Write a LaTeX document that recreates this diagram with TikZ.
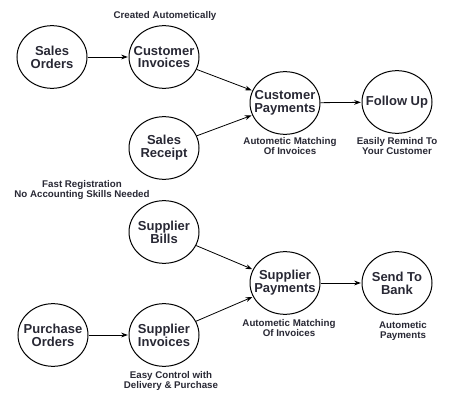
\documentclass[tikz,border=0pt]{standalone}
\usepackage{fontspec}
\setmainfont{Liberation Sans}
\usetikzlibrary{shapes.geometric,arrows.meta}

\definecolor{ink}{RGB}{40,40,52}

\tikzset{
  bubble/.style={ellipse, draw, line width=0.75pt, minimum width=52.5pt,
    minimum height=47pt, inner xsep=-5pt, inner ysep=0pt, align=center, text=ink,
    font=\bfseries\fontsize{9.75}{9.6}\selectfont},
  note/.style={align=center, text=ink, inner sep=0pt,
    font=\bfseries\fontsize{7.3}{7.6}\selectfont},
  flow/.style={-{Stealth[length=5pt,width=3.6pt]}, line width=0.6pt, shorten >=0.5pt}
}

\begin{document}
\begin{tikzpicture}[x=0.75pt,y=-0.75pt]
\useasboundingbox (0,0) rectangle (453,403);

% customer side
\node[bubble] (salesord) at (52,57)   {Sales\\Orders};
\node[bubble] (custinv)  at (164,57)  {Customer\\Invoices};
\node[bubble] (salesrec) at (164,148) {Sales\\Receipt};
\node[bubble] (custpay)  at (285,103) {Customer\\Payments};
\node[bubble] (followup) at (397,102) {Follow Up};

\node[note] (n1) at (165,16)  {Created Autometically};
\node[note] (n2) at (290,146) {Autometic Matching\\Of Invoices};
\node[note] (n3) at (397,146) {Easily Remind To\\Your Customer};
\node[note] (n4) at (82,190)  {Fast Registration\\No Accounting Skills Needed};

\draw[flow] (salesord) -- (custinv);
\draw[flow] (custinv)  -- (custpay);
\draw[flow] (salesrec) -- (custpay);
\draw[flow] (custpay)  -- (followup);

% supplier side
\node[bubble] (suppbill) at (164,232) {Supplier\\Bills};
\node[bubble] (supppay)  at (285,283) {Supplier\\Payments};
\node[bubble] (bank)     at (397,283) {Send To\\Bank};
\node[bubble] (purchord) at (53,335)  {Purchase\\Orders};
\node[bubble] (suppinv)  at (164,335) {Supplier\\Invoices};

\node[note] (n5) at (289,328) {Autometic Matching\\Of Invoices};
\node[note] (n6) at (403,331) {Autometic\\Payments};
\node[note] (n7) at (171,381) {Easy Control with\\Delivery \& Purchase};

\draw[flow] (purchord) -- (suppinv);
\draw[flow] (suppinv)  -- (supppay);
\draw[flow] (suppbill) -- (supppay);
\draw[flow] (supppay)  -- (bank);
\end{tikzpicture}
\end{document}
